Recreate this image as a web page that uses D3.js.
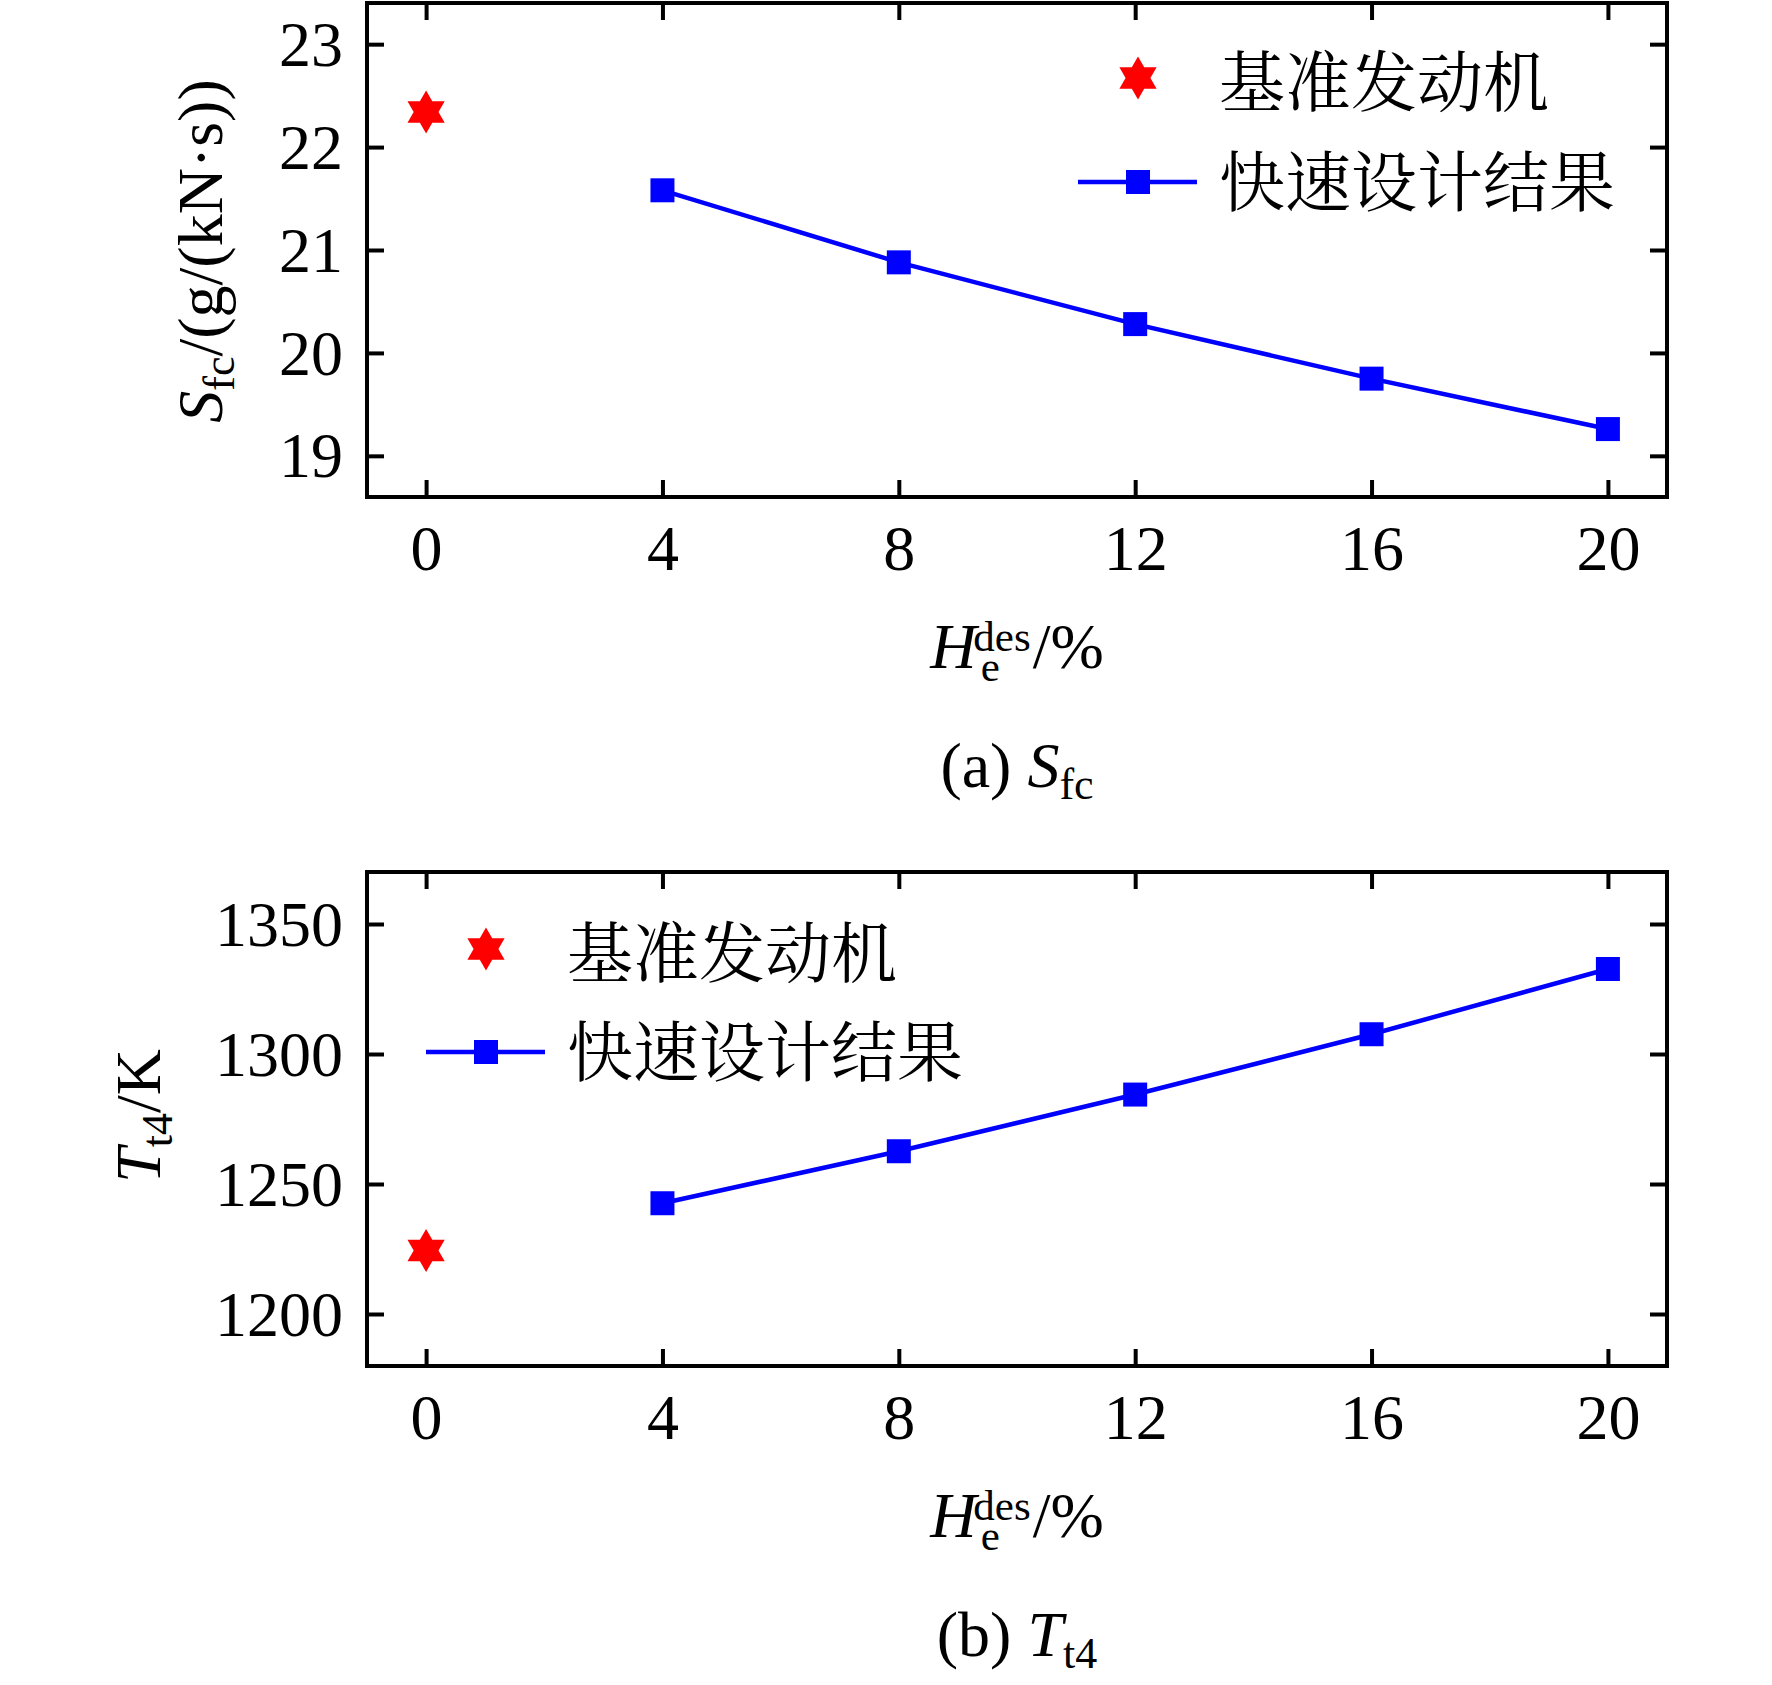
<!DOCTYPE html>
<html>
<head>
<meta charset="utf-8">
<script src="https://cdn.jsdelivr.net/npm/d3@7"></script>
<style>
html,body{margin:0;padding:0;background:#fff;}
svg{display:block;}
text{font-family:"Liberation Serif","Times New Roman",serif;fill:#000;}
.cjk{font-family:"Noto Serif CJK SC","Noto Sans CJK SC",sans-serif;}
</style>
</head>
<body>
<svg id="chart" width="1772" height="1685"></svg>
<script>
// ---- data ----
const xTicks = [0, 4, 8, 12, 16, 20];
const baselineX = [0];
const designX = [4, 8, 12, 16, 20];
const sfcBaseline = [22.34];
const sfcDesign = [21.58, 20.88, 20.28, 19.75, 19.26];
const sfcTicks = [19, 20, 21, 22, 23];
const t4Baseline = [1224.4];
const t4Design = [1242.6, 1262.6, 1284.4, 1307.6, 1332.7];
const t4Ticks = [1200, 1250, 1300, 1350];
const legendLabels = ["基准发动机", "快速设计结果"];

const svg = d3.select("#chart");
const FS = 64;

// custom hexagram symbol for d3.symbol
const hexagram = {
  draw(context, size) {
    const R = Math.sqrt(size);
    const r = R / Math.sqrt(3);
    for (let i = 0; i < 12; i++) {
      const a = -Math.PI / 2 + i * Math.PI / 6;
      const rad = i % 2 === 0 ? R : r;
      const px = rad * Math.cos(a), py = rad * Math.sin(a);
      if (i === 0) context.moveTo(px, py); else context.lineTo(px, py);
    }
    context.closePath();
  }
};
const starPath = d3.symbol().type(hexagram).size(21.5 * 21.5)();
const squarePath = d3.symbol().type(d3.symbolSquare).size(24 * 24)();

function panel(cfg) {
  const left = 367, right = 1667, top = cfg.top, bottom = cfg.top + 494;
  const x = d3.scaleLinear().domain([-1, 21]).range([left, right]);
  const y = d3.scaleLinear().domain(cfg.ydomain).range([bottom, top]);
  const g = svg.append("g");

  const tk = 17;
  const ax = g.append("g").attr("transform", `translate(0,${bottom})`)
    .call(d3.axisBottom(x).tickValues(xTicks).tickSizeInner(-tk).tickSizeOuter(0).tickFormat(d3.format("d")));
  ax.selectAll("text").attr("y", 73).attr("dy", 0).style("font-size", FS + "px");
  g.append("g").attr("transform", `translate(0,${top})`)
    .call(d3.axisTop(x).tickValues(xTicks).tickSizeInner(-tk).tickSizeOuter(0).tickFormat(""));
  const ay = g.append("g").attr("transform", `translate(${left},0)`)
    .call(d3.axisLeft(y).tickValues(cfg.yticks).tickSizeInner(-tk).tickSizeOuter(0).tickFormat(d3.format("d")));
  ay.selectAll("text").attr("x", -24).attr("dy", "0.33em").style("font-size", FS + "px");
  g.append("g").attr("transform", `translate(${right},0)`)
    .call(d3.axisRight(y).tickValues(cfg.yticks).tickSizeInner(-tk).tickSizeOuter(0).tickFormat(""));
  g.selectAll(".domain").remove();
  g.selectAll(".tick line").attr("stroke", "#000").attr("stroke-width", 4);

  g.append("rect").attr("x", left).attr("y", top).attr("width", right - left).attr("height", bottom - top)
    .attr("fill", "none").attr("stroke", "#000").attr("stroke-width", 4);

  const pts = designX.map((d, i) => [d, cfg.design[i]]);
  g.append("path").datum(pts)
    .attr("d", d3.line().x(d => x(d[0])).y(d => y(d[1])))
    .attr("fill", "none").attr("stroke", "#0000ff").attr("stroke-width", 4.5);
  g.selectAll(".sq").data(pts).enter().append("path")
    .attr("d", squarePath).attr("transform", d => `translate(${x(d[0])},${y(d[1])})`)
    .attr("fill", "#0000ff");
  g.selectAll(".st").data(baselineX.map((d, i) => [d, cfg.base[i]])).enter().append("path")
    .attr("d", starPath).attr("transform", d => `translate(${x(d[0])},${y(d[1])})`)
    .attr("fill", "#ff0000");

  const L = cfg.legend;
  g.append("path").attr("d", starPath).attr("transform", `translate(${L.cx},${L.y1})`).attr("fill", "#ff0000");
  g.append("line").attr("x1", L.cx - 60).attr("x2", L.cx + 59).attr("y1", L.y2).attr("y2", L.y2)
    .attr("stroke", "#0000ff").attr("stroke-width", 4.5);
  g.append("path").attr("d", squarePath).attr("transform", `translate(${L.cx},${L.y2})`).attr("fill", "#0000ff");
  [L.y1 + 4, L.y2].forEach((yy, i) => {
    g.append("text").attr("class", "cjk").attr("x", L.tx).attr("y", yy).attr("dy", "0.36em")
      .style("font-size", "66px").text(legendLabels[i]);
  });

  // x label: H_e^des/%
  const xl = g.append("text").attr("x", 1017).attr("y", bottom + 171).attr("text-anchor", "middle").style("font-size", FS + "px");
  xl.append("tspan").style("font-style", "italic").text("H");
  xl.append("tspan").style("font-size", "43px").attr("dx", -3).attr("dy", -17).text("des");
  xl.append("tspan").style("font-size", "43px").attr("dx", -50).attr("dy", 30).text("e");
  xl.append("tspan").attr("dx", 33).attr("dy", -13).text("/%");

  const cp = g.append("text").attr("x", 1017).attr("y", bottom + 290).attr("text-anchor", "middle").style("font-size", FS + "px");
  cp.append("tspan").text(cfg.capPrefix + " ");
  cp.append("tspan").style("font-style", "italic").text(cfg.sym);
  cp.append("tspan").style("font-size", "44px").attr("dy", 12).text(cfg.sub);

  const yl = g.append("text").attr("transform", `translate(${cfg.ylx},${(top + bottom) / 2 + cfg.yloff}) rotate(-90)`)
    .attr("text-anchor", "middle").style("font-size", FS + "px");
  yl.append("tspan").style("font-style", "italic").text(cfg.sym);
  yl.append("tspan").style("font-size", "44px").attr("dy", 12).text(cfg.sub);
  yl.append("tspan").attr("dy", -12).text(cfg.yrest);
}

panel({
  top: 3, ydomain: [18.6, 23.4], yticks: sfcTicks, design: sfcDesign, base: sfcBaseline,
  legend: { cx: 1138, y1: 78, y2: 182, tx: 1219 },
  capPrefix: "(a)", sym: "S", sub: "fc", yrest: "/(g/(kN·s))", ylx: 222, yloff: 1
});
panel({
  top: 872, ydomain: [1180, 1370], yticks: t4Ticks, design: t4Design, base: t4Baseline,
  legend: { cx: 486, y1: 949, y2: 1052, tx: 567 },
  capPrefix: "(b)", sym: "T", sub: "t4", yrest: "/K", ylx: 160, yloff: -3
});
</script>
</body>
</html>
